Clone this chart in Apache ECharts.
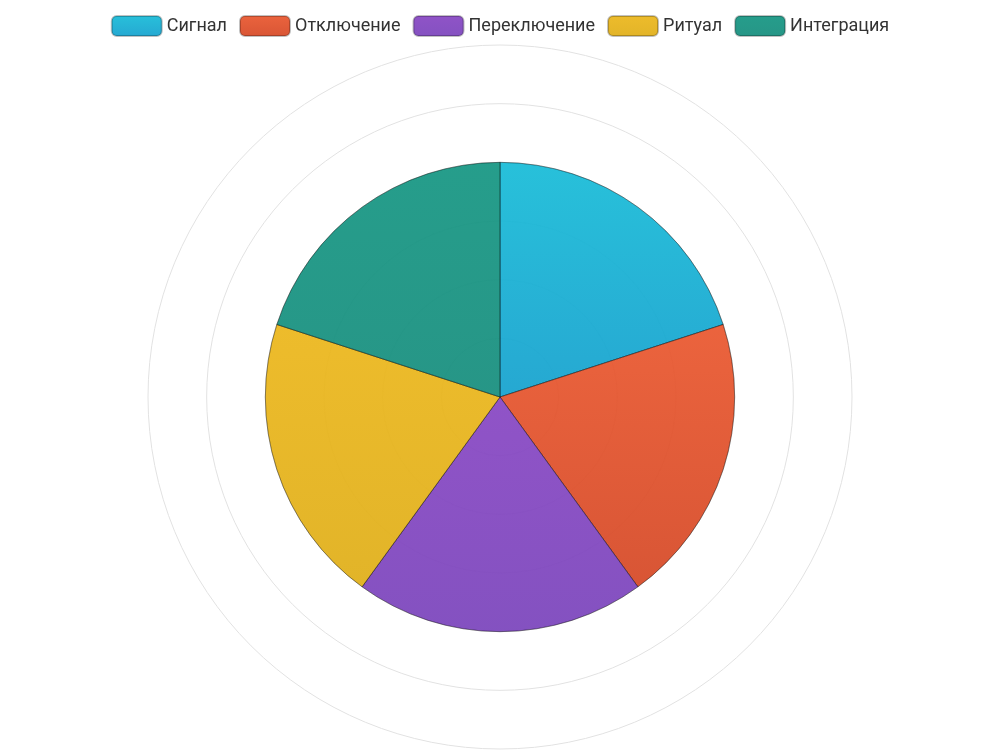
<!DOCTYPE html>
<html>
<head>
<meta charset="UTF-8" />
<script src="https://cdn.jsdelivr.net/npm/echarts@6/dist/echarts.min.js"></script>
<style>body{margin:0}#app{width:1000px;height:750px}</style>
</head>
<body>
<div id="app"></div>
<script>
var categories = ['Сигнал', 'Отключение', 'Переключение', 'Ритуал', 'Интеграция']
var values = [4, 4, 4, 4, 4]
var colors = [
  ['#1cbdd8', '#1aa3cf'],
  ['#ea5b33', '#d64c2a'],
  ['#8a4ac4', '#7d48bd'],
  ['#ecb820', '#e0b01d'],
  ['#1a9885', '#1b9080']
]

var chart = echarts.init(document.getElementById('app'))
var series = categories.map(function (name, i) {
  return {
    type: 'bar',
    name: name,
    coordinateSystem: 'polar',
    stack: 'all',
    barCategoryGap: '0%',
    data: categories.map(function (c, j) { return j === i ? values[i] : '-' }),
    itemStyle: {
      color: new echarts.graphic.LinearGradient(0, 0, 0, 1, [
        { offset: 0, color: colors[i][0] },
        { offset: 1, color: colors[i][1] }
      ]),
      opacity: 0.95,
      borderColor: 'rgba(0,0,0,0.25)',
      borderWidth: 1
    }
  }
})
chart.setOption({
  legend: {
    top: 10,
    itemWidth: 50,
    itemHeight: 20,
    itemGap: 12,
    textStyle: { fontFamily: 'Roboto', fontSize: 18, color: '#333' },
    data: categories
  },
  color: colors.map(function (c) { return c[0] }),
  polar: { center: ['50%', 397], radius: 352 },
  angleAxis: {
    type: 'category',
    data: categories,
    startAngle: 90,
    clockwise: true,
    axisLine: { show: false },
    axisTick: { show: false },
    axisLabel: { show: false },
    splitLine: { show: false }
  },
  radiusAxis: {
    min: 0,
    max: 6,
    interval: 1,
    axisLine: { show: false },
    axisTick: { show: false },
    axisLabel: { show: false },
    splitLine: { lineStyle: { color: '#e2e2e2' } }
  },
  series: series
})
</script>
</body>
</html>
